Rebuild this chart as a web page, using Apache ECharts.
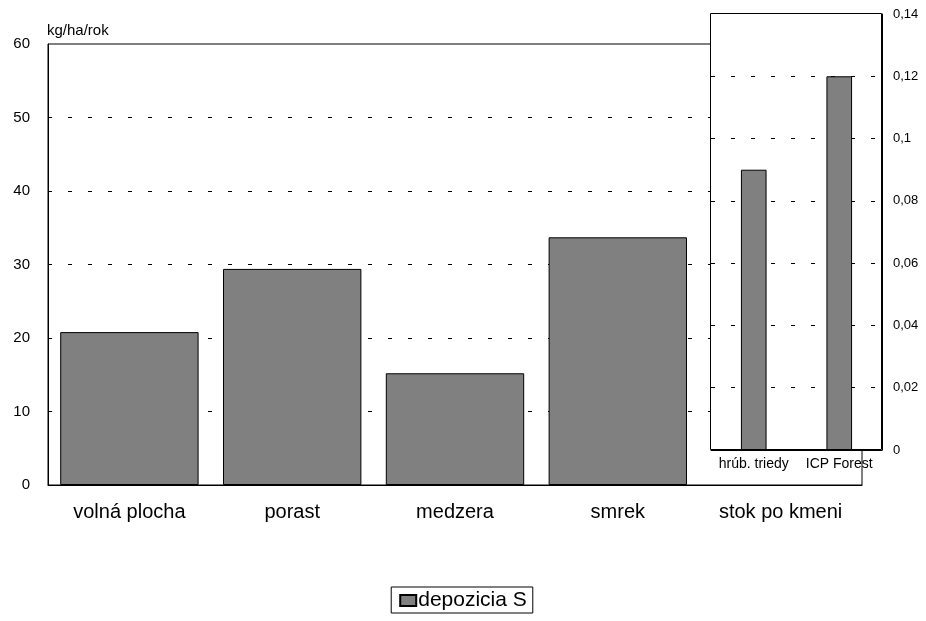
<!DOCTYPE html>
<html><head><meta charset="utf-8">
<script src="https://cdn.jsdelivr.net/npm/echarts@6/dist/echarts.min.js"></script>
<style>html,body{margin:0;padding:0;background:#fff}#c{width:926px;height:621px}</style>
</head><body><div id="c"></div>
<script>
var categories = ['volná plocha', 'porast', 'medzera', 'smrek', 'stok po kmeni'];
var values = [20.8, 29.4, 15.2, 33.7, null];
var insetCategories = ['hrúb. triedy', 'ICP Forest'];
var insetValues = [0.09, 0.12];
var seriesName = 'depozicia S';
var unitLabel = 'kg/ha/rok';

var font = 'Liberation Sans, Arial, sans-serif';
var chart = echarts.init(document.getElementById('c'), null, {renderer: 'canvas'});
chart.setOption({
  animation: false,
  backgroundColor: '#fff',
  textStyle: {fontFamily: font, color: '#000'},
  graphic: [
    {type: 'rect', z: 3, shape: {x: 710.5, y: 13.5, width: 171, height: 436},
     style: {fill: '#fff', stroke: '#000', lineWidth: 1}}
  ],
  grid: [
    {left: 48, top: 44, width: 814, height: 441, show: true, borderColor: '#000', borderWidth: 1, backgroundColor: 'transparent'},
    {left: 711, top: 14, width: 171, height: 436, show: false}
  ],
  legend: {
    bottom: 8, left: 'center', data: [seriesName],
    itemWidth: 16, itemHeight: 11, itemGap: 2,
    borderColor: '#000', borderWidth: 1, borderRadius: 0, padding: [3, 6, 2, 8],
    textStyle: {fontSize: 21, color: '#000', fontFamily: font, padding: [0, 0, 0, -3]},
    icon: 'rect'
  },
  xAxis: [
    {type: 'category', gridIndex: 0, data: categories,
     axisLine: {lineStyle: {color: '#000'}}, axisTick: {show: false},
     axisLabel: {fontSize: 20, color: '#000', margin: 17, fontFamily: font}},
    {type: 'category', gridIndex: 1, data: insetCategories, z: 6,
     axisLine: {lineStyle: {color: '#000'}}, axisTick: {show: false},
     axisLabel: {fontSize: 14, color: '#000', margin: 7, fontFamily: font, interval: 0, hideOverlap: false}}
  ],
  yAxis: [
    {type: 'value', gridIndex: 0, min: 0, max: 60, interval: 10,
     name: unitLabel, nameLocation: 'end', nameGap: 6,
     nameTextStyle: {align: 'left', fontSize: 15, color: '#000', fontFamily: font, padding: [0, 0, 0, -1]},
     axisLine: {show: true, lineStyle: {color: '#000'}}, axisTick: {show: false},
     axisLabel: {fontSize: 15, color: '#000', margin: 18, fontFamily: font},
     splitLine: {show: true, showMinLine: false, showMaxLine: false, lineStyle: {color: '#000', type: [4, 16], width: 1}}},
    {type: 'value', gridIndex: 1, min: 0, max: 0.14, interval: 0.02, position: 'right', z: 6,
     axisLine: {show: true, lineStyle: {color: '#000'}}, axisTick: {show: false},
     axisLabel: {fontSize: 13, color: '#000', margin: 11, fontFamily: font,
       formatter: function (v) { return String(+v.toFixed(2)).replace('.', ','); }},
     splitLine: {show: true, showMinLine: false, showMaxLine: false, lineStyle: {color: '#000', type: [4, 16], width: 1}}}
  ],
  series: [
    {name: seriesName, type: 'bar', xAxisIndex: 0, yAxisIndex: 0, data: values,
     barWidth: '85%', itemStyle: {color: '#808080', borderColor: '#000', borderWidth: 1}},
    {name: seriesName, type: 'bar', xAxisIndex: 1, yAxisIndex: 1, data: insetValues, z: 7,
     barWidth: '30%', itemStyle: {color: '#808080', borderColor: '#000', borderWidth: 1}}
  ]
});
</script></body></html>
